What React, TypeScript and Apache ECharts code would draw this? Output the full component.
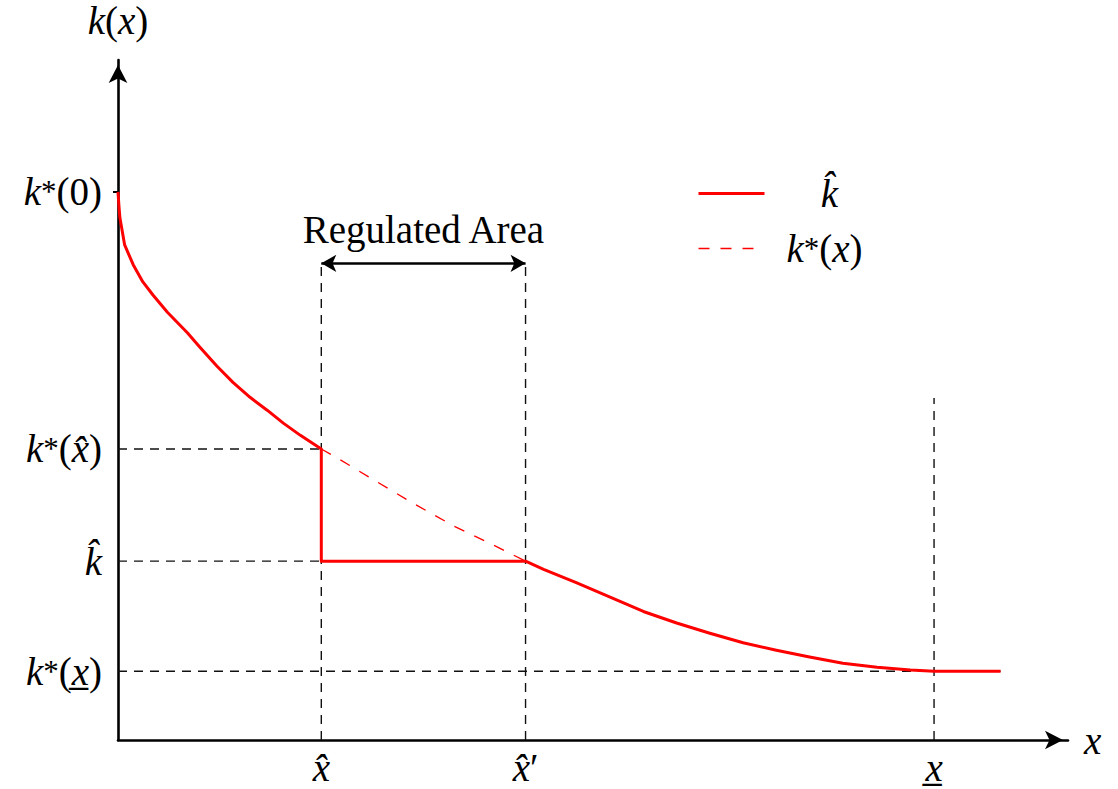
import React, { useEffect, useRef } from "react";
import * as echarts from "echarts";

// Axis ranges (abstract units)
const X_MAX = 10;
const Y_MAX = 10;

// Key positions on the x axis
const X_HAT = 2.14;
const X_HAT_P = 4.29;
const X_LOW = 8.59;
const X_END = 9.29;

// Key levels on the y axis
const K0 = 8.06;
const K_XHAT = 4.28;
const K_HAT = 2.63;
const K_XLOW = 1.01;

// Regulated area arrow level and top of the x-underline guide
const Y_ARROW = 7.01;
const X_LOW_TOP = 5.03;

// k*(x) from 0 to x-hat
const kStarLeftX = [0, 0.01, 0.02, 0.07, 0.16, 0.26, 0.37, 0.52, 0.73, 0.86, 1.04, 1.21, 1.39, 1.57, 1.74, 1.92, 2.14];
const kStarLeftY = [8.06, 7.85, 7.68, 7.28, 6.99, 6.74, 6.54, 6.29, 5.99, 5.78, 5.5, 5.26, 5.04, 4.85, 4.66, 4.48, 4.28];

// k*(x) inside the regulated area (dashed)
const kStarMidX = [2.14, 2.34, 2.65, 3.07, 3.53, 3.99, 4.29];
const kStarMidY = [4.28, 4.12, 3.86, 3.51, 3.15, 2.84, 2.63];

// k*(x) from x-hat' to x-underline
const kStarRightX = [4.29, 4.48, 4.83, 5.18, 5.53, 5.88, 6.23, 6.58, 6.93, 7.28, 7.63, 7.99, 8.34, 8.59];
const kStarRightY = [2.63, 2.51, 2.31, 2.1, 1.89, 1.72, 1.57, 1.43, 1.32, 1.22, 1.13, 1.07, 1.03, 1.01];

// Tick labels
const yTickValues = [K0, K_XHAT, K_HAT, K_XLOW];
const yTickLabels = [
  "{i|k}{s|*}{n|(0)}",
  "{i|k}{s|*}{n|(}{i|x\u0302}{n|)}",
  "{i|k\u0302}",
  "{i|k}{s|*}{n|(}{i|x\u0332}{n|)}",
];
const xTickValues = [X_HAT, X_HAT_P, X_LOW];
const xTickLabels = ["{i|x\u0302}", "{i|x\u0302}{n|\u2032}", "{i|x\u0332}"];

const LEGEND_SOLID = "k\u0302";
const LEGEND_DASHED = "k*(x)";
const legendLabels: Record<string, string> = {
  [LEGEND_SOLID]: "{c|k\u0302}",
  [LEGEND_DASHED]: "{p| }{i|k}{s|*}{n|(}{i|x}{n|)}",
};

const FONT = "'Liberation Serif', 'DejaVu Serif', serif";
const FS = 39;
const rich = {
  i: { fontFamily: FONT, fontStyle: "italic" as const, fontSize: FS, color: "#000" },
  n: { fontFamily: FONT, fontSize: FS, color: "#000" },
  s: { fontFamily: FONT, fontSize: 31, color: "#000" },
};

const zip = (xs: number[], ys: number[]) => xs.map((x, i) => [x, ys[i]]);

const guideSegments: number[][][] = [
  [[0, K_XHAT], [X_HAT, K_XHAT]],
  [[0, K_HAT], [X_HAT, K_HAT]],
  [[0, K_XLOW], [X_END, K_XLOW]],
  [[X_HAT, 0], [X_HAT, Y_ARROW]],
  [[X_HAT_P, 0], [X_HAT_P, Y_ARROW]],
  [[X_LOW, 0], [X_LOW, X_LOW_TOP]],
];

const nearestLabel = (v: number, vals: number[], labels: string[]) => {
  let best = 0;
  for (let i = 1; i < vals.length; i++) {
    if (Math.abs(vals[i] - v) < Math.abs(vals[best] - v)) best = i;
  }
  return labels[best];
};

export default function App() {
  const ref = useRef<HTMLDivElement>(null);
  useEffect(() => {
    if (!ref.current) return;
    const chart = echarts.init(ref.current, undefined, { renderer: "svg" });
    const red = "#ff0000";
    const series: any[] = [];
    guideSegments.forEach((seg) => {
      series.push({
        type: "line",
        data: seg,
        symbol: "none",
        silent: true,
        z: 1,
        lineStyle: { color: "#111", width: 1.4, type: [9, 7] },
      });
    });
    series.push({
      name: LEGEND_SOLID,
      type: "line",
      data: [
        ...zip(kStarLeftX, kStarLeftY),
        [X_HAT, K_HAT],
        ...zip(kStarRightX, kStarRightY),
        [X_END, K_XLOW],
      ],
      symbol: "none",
      z: 3,
      lineStyle: { color: red, width: 3, join: "round" },
      itemStyle: { color: red },
    });
    series.push({
      name: LEGEND_DASHED,
      type: "line",
      data: zip(kStarMidX, kStarMidY),
      symbol: "none",
      z: 2,
      lineStyle: { color: red, width: 1.3, type: [11, 11] },
      itemStyle: { color: red },
    });
    series.push({
      type: "line",
      data: [],
      silent: true,
      markLine: {
        silent: true,
        symbol: ["arrow", "arrow"],
        symbolSize: [13, 15],
        lineStyle: { color: "#000", width: 2.6, type: "solid" },
        label: {
          show: true,
          position: "insideMiddleTop",
          distance: 14,
          formatter: "Regulated Area",
          fontFamily: FONT,
          fontSize: 39,
          color: "#000",
        },
        data: [[{ coord: [X_HAT, Y_ARROW] }, { coord: [X_HAT_P, Y_ARROW] }]],
      },
    });

    chart.setOption({
      animation: false,
      backgroundColor: "#fff",
      grid: { left: 118, right: 50, top: 60, bottom: 49, containLabel: false },
      legend: {
        data: [
          { name: LEGEND_SOLID, lineStyle: { width: 3 } },
          { name: LEGEND_DASHED, lineStyle: { width: 1.3 } },
        ],
        orient: "vertical",
        left: 697,
        top: 174,
        padding: 0,
        itemWidth: 66,
        itemHeight: 14,
        itemGap: 16,
        itemStyle: { opacity: 0 },
        formatter: (name: string) => legendLabels[name] || name,
        textStyle: {
          rich: {
            c: { ...rich.i, width: 120, align: "center" },
            p: { ...rich.n, width: 17 },
            i: rich.i,
            n: rich.n,
            s: rich.s,
          },
        },
        selectedMode: false,
      },
      xAxis: {
        type: "value",
        min: 0,
        max: X_MAX,
        name: "{i|x}",
        nameLocation: "end",
        nameGap: 16,
        nameTextStyle: { rich, verticalAlign: "middle" },
        splitLine: { show: false },
        axisTick: { show: false },
        axisLine: {
          show: true,
          symbol: ["none", "arrow"],
          symbolSize: [14, 18],
          symbolOffset: [0, -5],
          lineStyle: { color: "#000", width: 2.6 },
        },
        axisLabel: {
          customValues: xTickValues,
          margin: 8,
          formatter: (v: number) => nearestLabel(v, xTickValues, xTickLabels),
          rich,
        },
      },
      yAxis: {
        type: "value",
        min: 0,
        max: Y_MAX,
        name: "{i|k}{n|(}{i|x}{n|)}",
        nameLocation: "end",
        nameGap: 20,
        nameTextStyle: { rich },
        splitLine: { show: false },
        axisTick: { show: true, customValues: [K0], length: 5, lineStyle: { color: "#000", width: 2 } },
        axisLine: {
          show: true,
          symbol: ["none", "arrow"],
          symbolSize: [14, 18],
          symbolOffset: [0, -5],
          lineStyle: { color: "#000", width: 2.6 },
        },
        axisLabel: {
          customValues: yTickValues,
          margin: 16,
          formatter: (v: number) => nearestLabel(v, yTickValues, yTickLabels),
          rich,
        },
      },
      series,
    });
    return () => chart.dispose();
  }, []);
  return (
    <div
      ref={ref}
      style={{ position: "fixed", left: 0, top: 0, width: 1118, height: 789, background: "#fff" }}
    />
  );
}
